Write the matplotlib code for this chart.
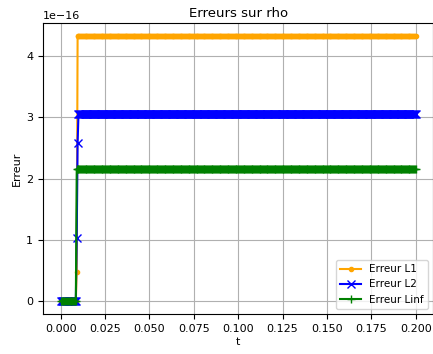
import numpy as np
import matplotlib
matplotlib.use("Agg")
import matplotlib.pyplot as plt

# Time grid
t = np.linspace(0.0, 0.2, 401)

# Error levels after the jump
l1_level = 4.33e-16
l2_level = 3.06e-16
linf_level = 2.16e-16

# Values during the transition steps (t = 0.009, 0.0095)
l1_ramp = [0.47e-16, 4.33e-16]
l2_ramp = [1.02e-16, 2.58e-16]
linf_ramp = [2.16e-16, 2.16e-16]

n_zero = 18  # samples with zero error (t <= 0.0085)

def build(ramp, level):
    vals = np.full(t.shape, level)
    vals[:n_zero] = 0.0
    vals[n_zero:n_zero + len(ramp)] = ramp
    return vals

err_l1 = build(l1_ramp, l1_level)
err_l2 = build(l2_ramp, l2_level)
err_linf = build(linf_ramp, linf_level)

fig, ax = plt.subplots(figsize=(4.33, 3.54), dpi=100)
ax.plot(t, err_l1, color="orange", marker=".", label="Erreur L1")
ax.plot(t, err_l2, color="blue", marker="x", label="Erreur L2")
ax.plot(t, err_linf, color="green", marker="+", label="Erreur Linf")
ax.set_title("Erreurs sur rho", fontsize=9.5, pad=4.5)
ax.set_xlabel("t", fontsize=8, labelpad=2.5)
ax.set_ylabel("Erreur", fontsize=8, labelpad=3)
ax.tick_params(labelsize=8)
ax.yaxis.get_offset_text().set_fontsize(8)
ax.set_xticks(np.arange(0, 0.2001, 0.025))
ax.grid(True)
ax.legend(fontsize=7.5, loc="lower right")
fig.subplots_adjust(left=0.0993, right=1.001, bottom=0.113, top=0.935)
fig.savefig("out.png")
